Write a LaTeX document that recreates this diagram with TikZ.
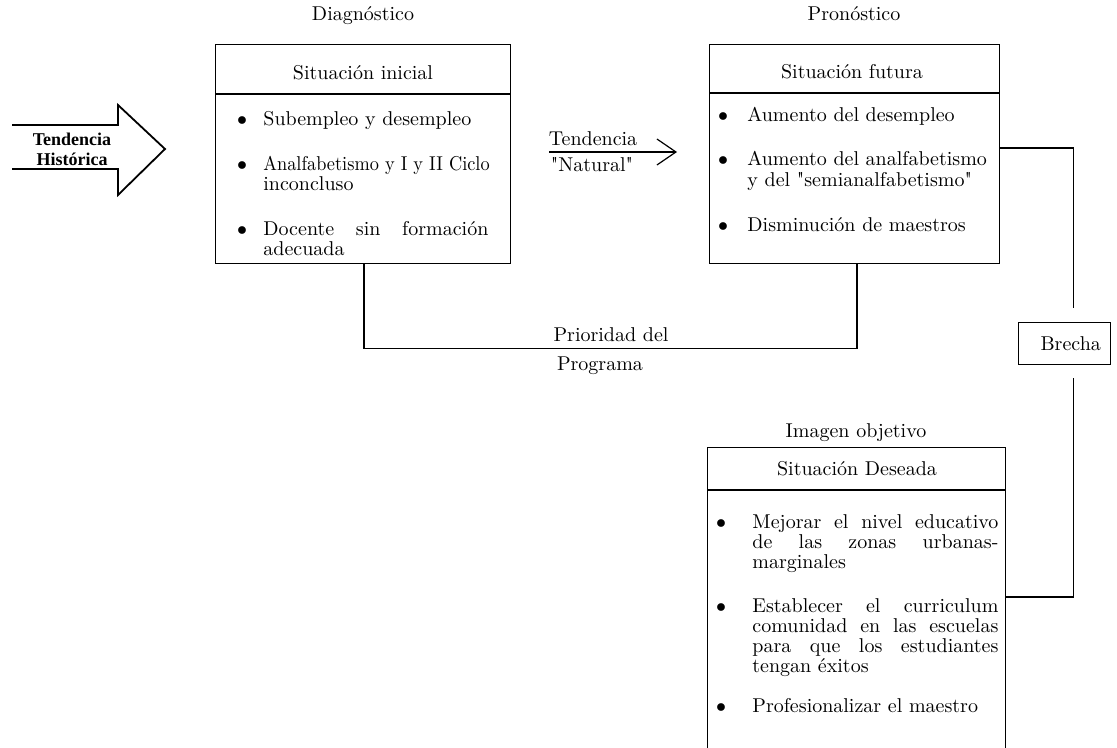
\documentclass[tikz,border=0pt]{standalone}
\usepackage{fontspec}
\newfontfamily\timesfont{Liberation Serif}
\usetikzlibrary{arrows.meta,calc}
\newcommand{\justline}[2]{\makebox[#1][s]{#2}}
\newcommand{\toplines}[1]{\begin{tabular}[t]{@{}l@{}}#1\end{tabular}}
\begin{document}
\begin{tikzpicture}[x=0.5pt,y=-0.5pt,
  box/.style={draw,line width=0.7pt,anchor=north west,inner sep=0pt},
  sep/.style={line width=0.7pt},
  conn/.style={line width=0.6pt},
  txt/.style={font=\fontsize{10}{10}\selectfont,inner sep=0pt},
  item/.style={txt,anchor=base west},
  bul/.style={txt,anchor=base}]
\clip (0,0) rectangle (1117,748);
\fill[white] (0,0) rectangle (1117,748);

% big arrow
\draw[line width=0.9pt] (12,125) -- (118,125) -- (118,105) -- (165,149) -- (118,195) -- (118,169) -- (12,169);
\node[font=\timesfont\bfseries\fontsize{9}{10}\selectfont,align=center,inner sep=0pt] (th) at (72,149) {Tendencia\\Histórica};

% titles
\node[txt,anchor=base] (t1) at (363,21) {Diagnóstico};
\node[txt,anchor=base] (t2) at (854,21) {Pronóstico};
\node[txt,anchor=base] (t3) at (856,437) {Imagen objetivo};

% boxes
\node[box,minimum width=147.5pt,minimum height=109.5pt] (b1) at (215,44) {};
\node[box,minimum width=145pt,minimum height=109.5pt] (b2) at (709,44) {};
\node[box,minimum width=149pt,minimum height=166.5pt] (b3) at (707,447) {};
\draw[sep] ($(b1.north west)+(0,50)$) -- ($(b1.north east)+(0,50)$);
\draw[sep] ($(b2.north west)+(0,49)$) -- ($(b2.north east)+(0,49)$);
\draw[sep] ($(b3.north west)+(0,43)$) -- ($(b3.north east)+(0,43)$);

% headers
\node[txt,anchor=base] (h1) at (363,80) {Situación inicial};
\node[txt,anchor=base] (h2) at (852,79) {Situación futura};
\node[txt,anchor=base] (h3) at (857,475) {Situación Deseada};

% box 1 items
\node[bul] (d1b) at (242,126) {$\bullet$};
\node[item] (d1) at (263,126) {Subempleo y desempleo};
\node[bul] (d2b) at (242,171) {$\bullet$};
\node[item] (d2) at (263,171) {\toplines{\scalebox{0.915}[1]{Analfabetismo y I y II Ciclo}\\inconcluso}};
\node[bul] (d3b) at (242,236) {$\bullet$};
\node[item] (d3) at (263,236) {\toplines{\justline{112.5pt}{Docente sin formación}\\adecuada}};

% box 2 items
\node[bul] (p1b) at (723,122) {$\bullet$};
\node[item] (p1) at (747,122) {Aumento del desempleo};
\node[bul] (p2b) at (723,166) {$\bullet$};
\node[item] (p2) at (747,166) {\toplines{Aumento del analfabetismo\\y del \textquotedbl semianalfabetismo\textquotedbl}};
\node[bul] (p3b) at (723,232) {$\bullet$};
\node[item] (p3) at (747,232) {Disminución de maestros};

% box 3 items
\node[bul] (o1b) at (721,528) {$\bullet$};
\node[item] (o1) at (752,528) {\toplines{\justline{123pt}{Mejorar el nivel educativo}\\\justline{123pt}{de las zonas urbanas-}\\marginales}};
\node[bul] (o2b) at (721,612) {$\bullet$};
\node[item] (o2) at (752,612) {\toplines{\justline{123pt}{Establecer el curriculum}\\\justline{123pt}{comunidad en las escuelas}\\\justline{123pt}{para que los estudiantes}\\tengan éxitos}};
\node[bul] (o3b) at (721,712) {$\bullet$};
\node[item] (o3) at (752,712) {Profesionalizar el maestro};

% tendencia natural arrow
\coordinate (ta) at (549,152);
\coordinate (tb) at (677,152);
\draw[conn,-{Straight Barb[length=9.5pt,width=13pt]}] (ta) -- (tb);
\node[txt,anchor=base] (tl1) at (593,146) {Tendencia};
\node[txt,anchor=base] (tl2) at (592,172) {\textquotedbl Natural\textquotedbl};

% prioridad connector
\draw[conn] ($(b1.south west)+(149,0)$) |- ($(b2.south west)+(148,84)$) -- ($(b2.south west)+(148,0)$);
\node[txt,anchor=base] (pr1) at (611,342) {Prioridad del};
\node[txt,anchor=base] (pr2) at (600,370) {Programa};

% brecha
\node[draw,line width=0.7pt,minimum width=46pt,minimum height=21pt,anchor=north west,txt] (br) at (1018,322) {\hspace*{6pt}Brecha};
\draw[conn] ($(b2.north east)+(0,104)$) -| ($(br.north)+(9,-14)$);
\draw[conn] ($(br.south)+(9,13)$) |- ($(b3.north east)+(0,150)$);
\end{tikzpicture}
\end{document}
